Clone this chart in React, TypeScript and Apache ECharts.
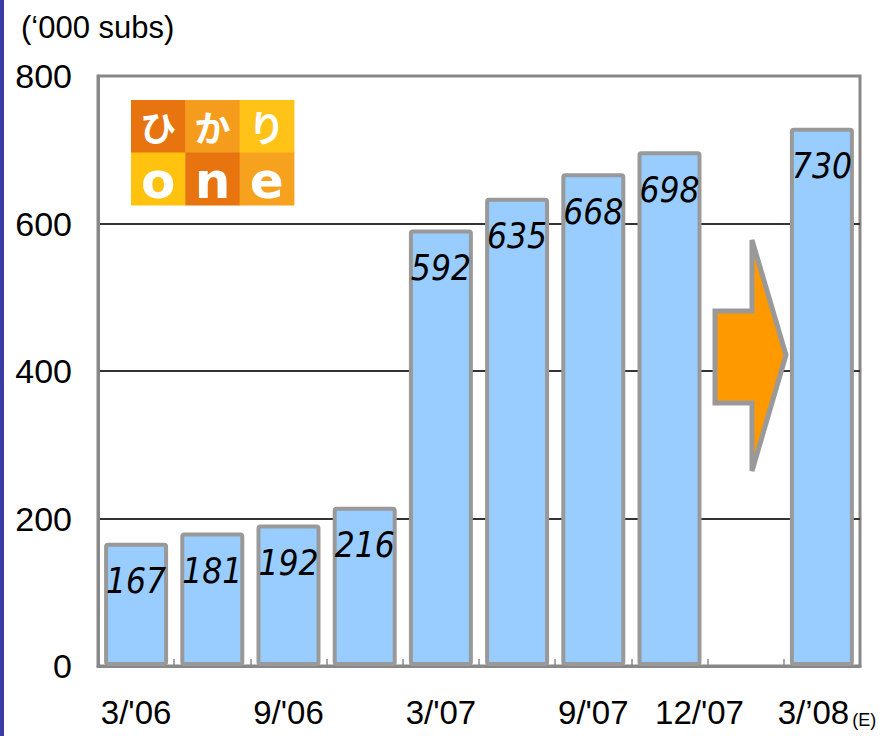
import React, { useEffect, useRef } from "react";
import * as echarts from "echarts";

const categories = ["3/'06", "6/'06", "9/'06", "12/'06", "3/'07", "6/'07", "9/'07", "12/'07", "", "3/'08"];
const tickLabels = ["3/'06", "", "9/'06", "", "3/'07", "", "9/'07", "12/'07", "", "3/’08"];
const subscribers: (number | null)[] = [167, 181, 192, 216, 592, 635, 668, 698, null, 730];
const yTicks = { min: 0, max: 800, interval: 200 };
const unitLabel = "(‘000 subs)";
const logoTop = ["ひ", "か", "り"];
const logoBottom = ["o", "n", "e"];

export default function App() {
  const ref = useRef<HTMLDivElement>(null);
  useEffect(() => {
    if (!ref.current) return;
    const chart = echarts.init(ref.current, undefined, { renderer: "svg" });
    const sq = 54.3;
    const sh = 52.5;
    const lx = 131;
    const ly = 100;
    const topColors = ["#E8740F", "#F59C1C", "#FFC317"];
    const botColors = ["#FFC20F", "#E8740F", "#F7A21E"];
    const logoEls: any[] = [];
    for (let i = 0; i < 3; i++) {
      logoEls.push({ type: "rect", shape: { x: lx + i * sq, y: ly, width: sq + 0.5, height: sh + 0.5 }, style: { fill: topColors[i] } });
      logoEls.push({ type: "rect", shape: { x: lx + i * sq, y: ly + sh, width: sq + 0.5, height: sh + 0.5 }, style: { fill: botColors[i] } });
      logoEls.push({
        type: "text", x: lx + i * sq + sq / 2, y: ly + sh / 2,
        style: { text: logoTop[i], fill: "#fff", fontSize: 36, fontWeight: "bold", fontFamily: "Noto Sans CJK JP", align: "center", verticalAlign: "middle" },
      });
      logoEls.push({
        type: "text", x: lx + i * sq + sq / 2, y: ly + sh + sh / 2 + 2,
        style: { text: logoBottom[i], fill: "#fff", fontSize: 50, fontWeight: "bold", fontFamily: "DejaVu Sans", align: "center", verticalAlign: "middle" },
      });
    }
    chart.setOption({
      animation: false,
      backgroundColor: "#fff",
      title: {
        text: unitLabel, left: 16, top: 7,
        textStyle: { fontSize: 31, fontWeight: "normal", color: "#000", fontFamily: "Liberation Sans" },
      },
      grid: { left: 98, right: 26, top: 76, bottom: 70, show: true, borderColor: "#888", borderWidth: 3, backgroundColor: "transparent" },
      xAxis: {
        type: "category",
        data: categories,
        axisLine: { show: true, lineStyle: { color: "#888", width: 3 } },
        axisTick: { show: true, inside: true, length: 7, interval: 0, lineStyle: { color: "#888", width: 1.5 } },
        axisLabel: {
          interval: 0, margin: 30, color: "#000", fontSize: 33, fontFamily: "Liberation Sans",
          formatter: (_v: string, idx: number) => {
            const t = tickLabels[idx];
            if (!t) return "";
            if (idx === 7) return "{s|" + t + "}";
            if (idx === 9) return "{m|" + t + "}{e|(E)}";
            return t;
          },
          rich: {
            s: { fontSize: 33, fontFamily: "Liberation Sans", color: "#000", padding: [0, 0, 0, 60] },
            m: { fontSize: 33, fontFamily: "Liberation Sans", color: "#000", padding: [0, 0, 0, 10] },
            e: { fontSize: 18, fontFamily: "Liberation Sans", color: "#000", verticalAlign: "bottom", padding: [12, 0, 0, 3] },
          },
        },
      },
      yAxis: {
        type: "value",
        min: yTicks.min, max: yTicks.max, interval: yTicks.interval,
        axisLine: { show: true, lineStyle: { color: "#888", width: 3 } },
        axisTick: { show: false },
        axisLabel: { margin: 26, color: "#000", fontSize: 34, fontFamily: "Liberation Sans" },
        splitLine: { show: true, lineStyle: { color: ["#888", "#333", "#333", "#333", "#888"], width: 2 } },
      },
      series: [
        {
          type: "bar",
          data: subscribers.map((v) => (v === null ? "-" : v)),
          barWidth: 64,
          itemStyle: { color: "#99CCFF", borderColor: "#999", borderWidth: 4, borderRadius: 2 },
          label: {
            show: true, position: "insideTop", distance: 21,
            color: "#000", fontSize: 35, fontStyle: "italic",
            fontFamily: "'Liberation Sans Narrow', 'DejaVu Sans Condensed', 'Noto Sans'",
          },
          z: 3,
        },
      ],
      graphic: [
        { type: "rect", shape: { x: 0, y: 0, width: 4, height: 736 }, style: { fill: "#3B3BA6" } },
        {
          type: "polygon", z: 10,
          shape: { points: [[715, 311], [752, 311], [752, 240], [786, 355], [752, 471], [752, 403], [715, 403]] },
          style: { fill: "#FF9900", stroke: "#999", lineWidth: 5, lineJoin: "miter" },
        },
        { type: "group", z: 10, children: logoEls },
      ],
    });
    return () => chart.dispose();
  }, []);
  return <div ref={ref} style={{ position: "fixed", left: 0, top: 0, width: 886, height: 736 }} />;
}
